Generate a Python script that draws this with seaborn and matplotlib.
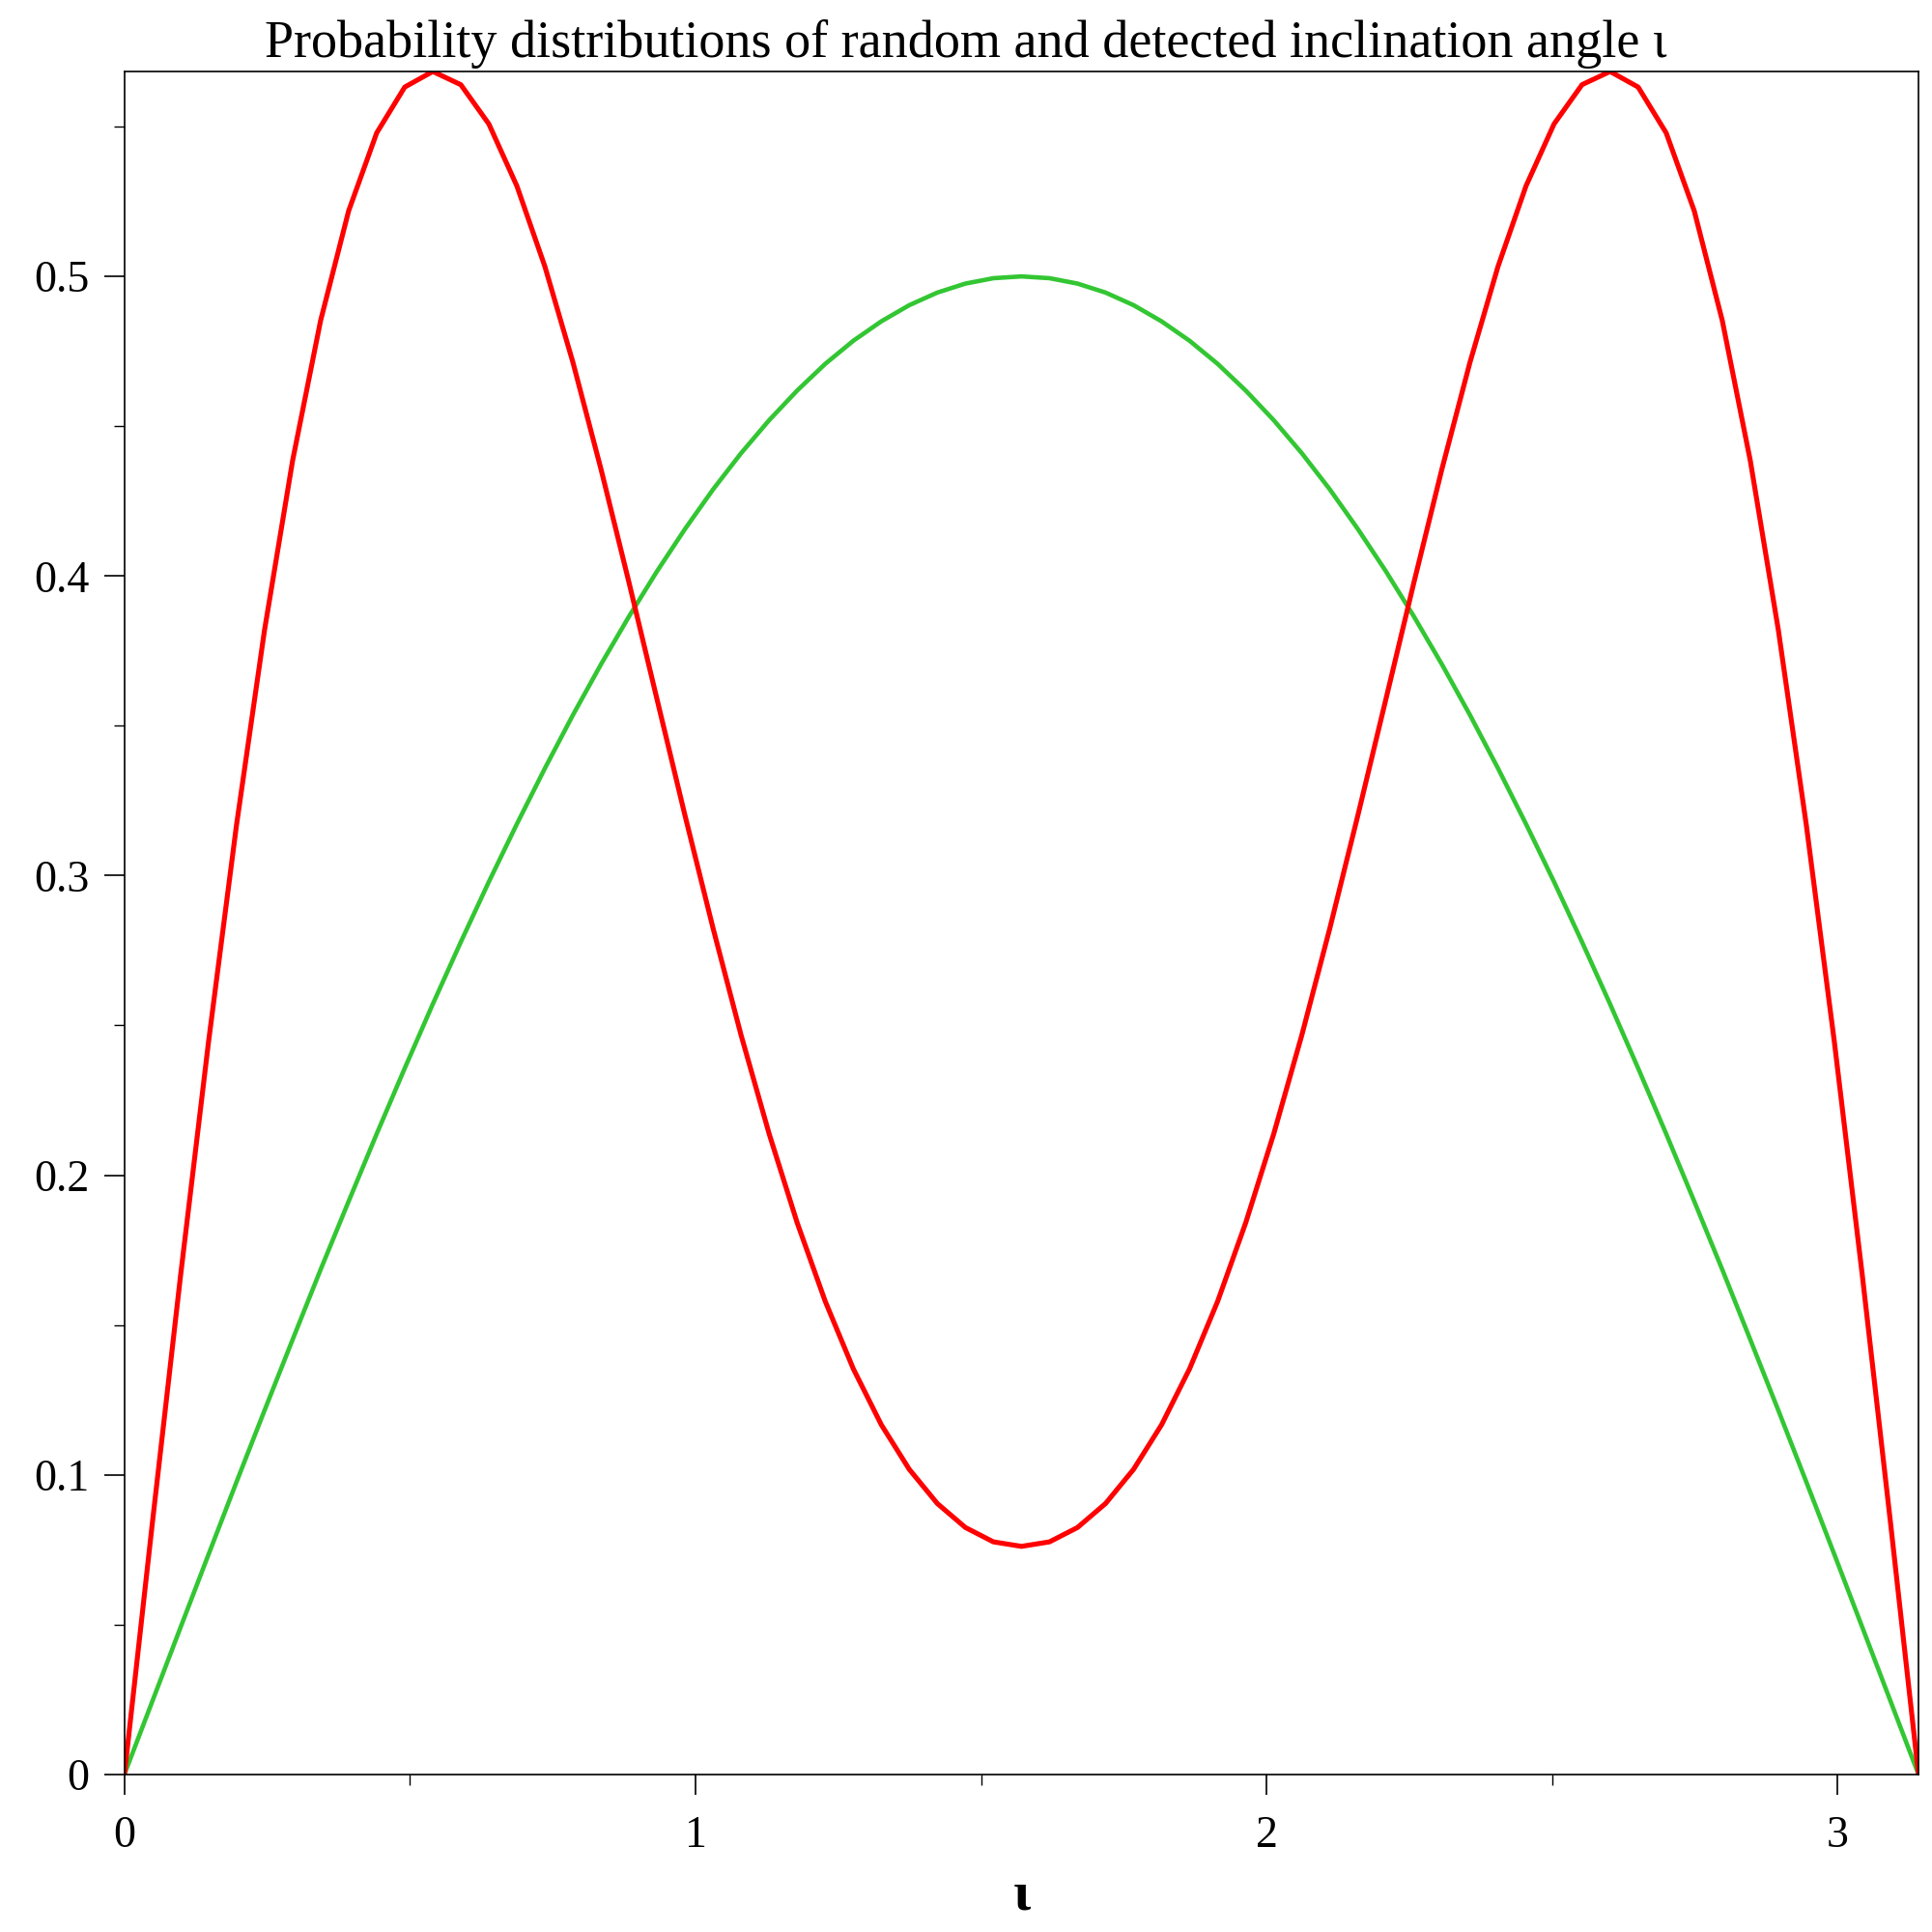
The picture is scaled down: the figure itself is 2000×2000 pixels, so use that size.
import numpy as np
import pandas as pd
import seaborn as sns
import matplotlib.pyplot as plt
from matplotlib.ticker import MultipleLocator, FixedLocator

# Inclination angle grid
iota = [0, 0.0491, 0.0982, 0.1473, 0.1963, 0.2454, 0.2945, 0.3436, 0.3927, 0.4418,
        0.4909, 0.5400, 0.5890, 0.6381, 0.6872, 0.7363, 0.7854, 0.8345, 0.8836,
        0.9327, 0.9817, 1.0308, 1.0799, 1.1290, 1.1781, 1.2272, 1.2763, 1.3254,
        1.3744, 1.4235, 1.4726, 1.5217, 1.5708,
        1.6199, 1.6690, 1.7181, 1.7671, 1.8162, 1.8653, 1.9144, 1.9635, 2.0126,
        2.0617, 2.1108, 2.1598, 2.2089, 2.2580, 2.3071, 2.3562, 2.4053, 2.4544,
        2.5035, 2.5525, 2.6016, 2.6507, 2.6998, 2.7489, 2.7980, 2.8471, 2.8962,
        2.9452, 2.9943, 3.0434, 3.0925, 3.1416]

# random (isotropic) inclination - green
p_random = [0, 0.0245, 0.0490, 0.0734, 0.0976, 0.1215, 0.1451, 0.1685, 0.1913,
            0.2138, 0.2357, 0.2571, 0.2778, 0.2979, 0.3172, 0.3358, 0.3536, 0.3705,
            0.3865, 0.4016, 0.4157, 0.4289, 0.4410, 0.4520, 0.4619, 0.4708, 0.4785,
            0.4850, 0.4904, 0.4946, 0.4976, 0.4994, 0.5000,
            0.4994, 0.4976, 0.4946, 0.4904, 0.4850, 0.4785, 0.4708, 0.4619, 0.4520,
            0.4410, 0.4289, 0.4157, 0.4016, 0.3865, 0.3705, 0.3536, 0.3358, 0.3172,
            0.2979, 0.2778, 0.2571, 0.2357, 0.2138, 0.1913, 0.1685, 0.1451, 0.1215,
            0.0976, 0.0734, 0.0490, 0.0245, 0]

# detected inclination - red
p_detected = [0, 0.0842, 0.1663, 0.2445, 0.3169, 0.3820, 0.4385, 0.4853, 0.5219,
              0.5479, 0.5632, 0.5684, 0.5640, 0.5509, 0.5302, 0.5033, 0.4713, 0.4357,
              0.3978, 0.3588, 0.3200, 0.2824, 0.2467, 0.2138, 0.1841, 0.1579, 0.1354,
              0.1167, 0.1018, 0.0904, 0.0824, 0.0776, 0.0761,
              0.0776, 0.0824, 0.0904, 0.1018, 0.1167, 0.1354, 0.1579, 0.1841, 0.2138,
              0.2467, 0.2824, 0.3200, 0.3588, 0.3978, 0.4357, 0.4713, 0.5033, 0.5302,
              0.5509, 0.5640, 0.5684, 0.5632, 0.5479, 0.5219, 0.4853, 0.4385, 0.3820,
              0.3169, 0.2445, 0.1663, 0.0842, 0]

y_ticks = [0, 0.1, 0.2, 0.3, 0.4, 0.5]
y_labels = ["0", "0.1", "0.2", "0.3", "0.4", "0.5"]
x_ticks = [0, 1, 2, 3]
x_labels = ["0", "1", "2", "3"]

sns.set_theme(style="ticks")
plt.rcParams['font.family'] = ['Liberation Serif', 'DejaVu Serif']
plt.rcParams['text.color'] = 'black'
plt.rcParams['axes.labelcolor'] = 'black'

df = pd.DataFrame({'iota': iota, 'random': p_random, 'detected': p_detected})

fig, ax = plt.subplots(figsize=(20, 20), dpi=100)
fig.subplots_adjust(left=0.0644, right=0.993, top=0.963, bottom=0.0816)

sns.lineplot(data=df, x='iota', y='random', color='#33c633', linewidth=3.3,
             sort=False, ax=ax)
sns.lineplot(data=df, x='iota', y='detected', color='#ff0000', linewidth=3.7,
             sort=False, ax=ax)

ax.set_xlim(0, 3.1416)
ax.set_ylim(0, 0.5684)

ax.yaxis.set_major_locator(FixedLocator(y_ticks))
ax.set_yticklabels(y_labels)
ax.yaxis.set_minor_locator(MultipleLocator(0.05))
ax.xaxis.set_major_locator(FixedLocator(x_ticks))
ax.set_xticklabels(x_labels)
ax.xaxis.set_minor_locator(MultipleLocator(0.5))

ax.tick_params(axis='both', which='major', direction='out', length=15,
               width=1.2, labelsize=33, color='black', labelcolor='black')
ax.tick_params(axis='both', which='minor', direction='out', length=8,
               width=1.0, color='black')
ax.tick_params(axis='y', which='major', pad=11)
ax.tick_params(axis='x', which='major', pad=16)

for sp in ax.spines.values():
    sp.set_visible(True)
    sp.set_color('black')
    sp.set_linewidth(1.2)

ax.set_xlabel('ι', fontsize=42, fontweight='bold', labelpad=10)
ax.set_ylabel('')
fig.suptitle('Probability distributions of random and detected inclination angle ι',
             fontsize=39, x=0.5, y=0.99, color='black')

fig.savefig('out.png', dpi=100, facecolor='white')
